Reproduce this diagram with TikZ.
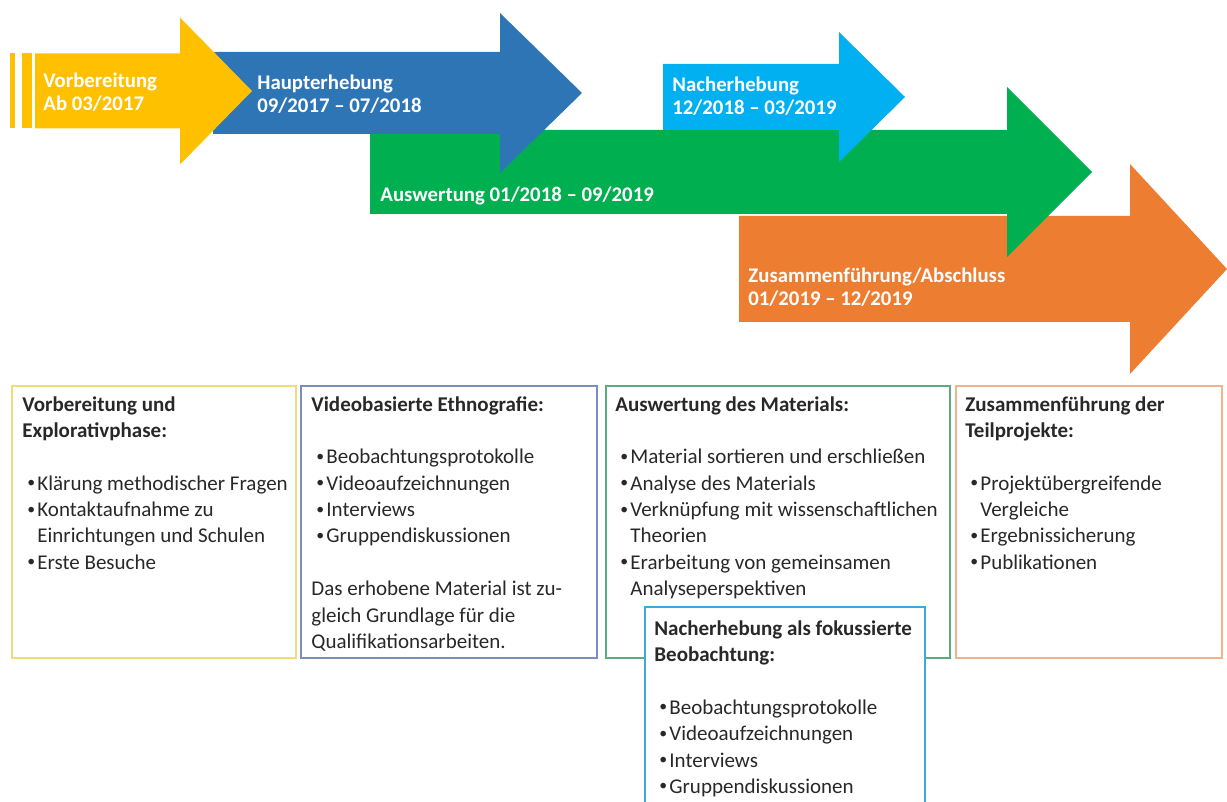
\documentclass[tikz,border=0pt]{standalone}
\usepackage{fontspec}
\setmainfont{Carlito}

\definecolor{gelb}{RGB}{255,192,0}
\definecolor{blau}{RGB}{46,117,182}
\definecolor{hellblau}{RGB}{0,176,240}
\definecolor{gruen}{RGB}{0,176,80}
\definecolor{orangeP}{RGB}{237,125,49}
\definecolor{rahmenA}{RGB}{240,220,120}
\definecolor{rahmenB}{RGB}{125,140,190}
\definecolor{rahmenC}{RGB}{90,170,130}
\definecolor{rahmenD}{RGB}{240,180,140}
\definecolor{rahmenE}{RGB}{60,170,215}
\definecolor{schrift}{RGB}{40,40,40}

% arrow: colour, left, head base, tip, centre, body half, head half
\newcommand{\pfeil}[7]{\fill[#1] (#2,#5-#6) -- (#3,#5-#6) -- (#3,#5-#7) -- (#4,#5)
  -- (#3,#5+#7) -- (#3,#5+#6) -- (#2,#5+#6) -- cycle;}
\newcommand{\punkt}[1]{\par\hangindent=7.5pt\hangafter=1\noindent
  \hspace*{2.5pt}\makebox[5pt][l]{\raisebox{0.25ex}{\scalebox{0.75}{•}}}#1}
\newcommand{\leer}{\par\vspace{13.2pt}}

\begin{document}
\begin{tikzpicture}[x=0.5pt,y=-0.5pt,
    kasten/.style={line width=1pt},
    txt/.style={anchor=base west,inner sep=0,text=schrift,
      font=\fontsize{10.5}{13.2}\selectfont},
    pfeiltext/.style={anchor=base west,inner sep=0,text=white,
      font=\fontsize{10.4}{11.5}\selectfont\bfseries}]
    \useasboundingbox (0,0) rectangle (1227,802);

    % arrows
    \pfeil{orangeP}{739}{1130}{1227}{269}{53}{105}
    \pfeil{gruen}{370}{1007}{1092}{172}{42}{85}
    \pfeil{hellblau}{663}{839}{905}{97}{33}{65}
    \pfeil{blau}{213}{500}{582}{93}{41}{80}
    \pfeil{gelb}{35}{180}{252}{91}{37.5}{73.5}
    \fill[gelb] (10,53.5) rectangle (15,128.5);
    \fill[gelb] (22,53.5) rectangle (32,128.5);

    \node[pfeiltext] (vorb) at (43,88) {\parbox[t]{120pt}{Vorbereitung\\Ab 03/2017}};
    \node[pfeiltext] (haupt) at (257,90) {\parbox[t]{120pt}{Haupterhebung\\09/2017 -- 07/2018}};
    \node[pfeiltext] (nach) at (672,92) {\parbox[t]{120pt}{Nacherhebung\\12/2018 -- 03/2019}};
    \node[pfeiltext] (ausw) at (380,202) {Auswertung 01/2018 -- 09/2019};
    \node[pfeiltext] (zus) at (748,283) {\parbox[t]{160pt}{Zusammenführung/Abschluss\\01/2019 -- 12/2019}};

    % boxes
    \draw[kasten,rahmenA] (12,386) rectangle (296,658);
    \draw[kasten,rahmenB] (301,386) rectangle (597,658);
    \draw[kasten,rahmenC] (606,386) rectangle (950,658);
    \draw[kasten,rahmenD] (956,386) rectangle (1222,658);
    \filldraw[kasten,draw=rahmenE,fill=white] (645,803) -- (645,607) -- (925,607) -- (925,803);

    \node[txt] (vorbtxt) at (22,411) {\parbox[t]{160pt}{\textbf{Vorbereitung und\\Explorativphase:}\leer
      \punkt{Klärung methodischer Fragen}
      \punkt{Kontaktaufnahme zu\\Einrichtungen und Schulen}
      \punkt{Erste Besuche}}};
    \node[txt] (ethnotxt) at (311,411) {\parbox[t]{160pt}{\textbf{Videobasierte Ethnografie:}\leer
      \punkt{Beobachtungsprotokolle}
      \punkt{Videoaufzeichnungen}
      \punkt{Interviews}
      \punkt{Gruppendiskussionen}\leer
      \noindent Das erhobene Material ist zu-\\gleich Grundlage für die\\Qualifikationsarbeiten.}};
    \node[txt] (materialtxt) at (615,411) {\parbox[t]{180pt}{\textbf{Auswertung des Materials:}\leer
      \punkt{Material sortieren und erschließen}
      \punkt{Analyse des Materials}
      \punkt{Verknüpfung mit wissenschaftlichen\\Theorien}
      \punkt{Erarbeitung von gemeinsamen\\Analyseperspektiven}}};
    \node[txt] (teiltxt) at (965,411) {\parbox[t]{140pt}{\textbf{Zusammenführung der\\Teilprojekte:}\leer
      \punkt{Projektübergreifende\\Vergleiche}
      \punkt{Ergebnissicherung}
      \punkt{Publikationen}}};
    \node[txt] (fokustxt) at (654,635) {\parbox[t]{150pt}{\textbf{Nacherhebung als fokussierte\\Beobachtung:}\leer
      \punkt{Beobachtungsprotokolle}
      \punkt{Videoaufzeichnungen}
      \punkt{Interviews}
      \punkt{Gruppendiskussionen}}};
\end{tikzpicture}
\end{document}
